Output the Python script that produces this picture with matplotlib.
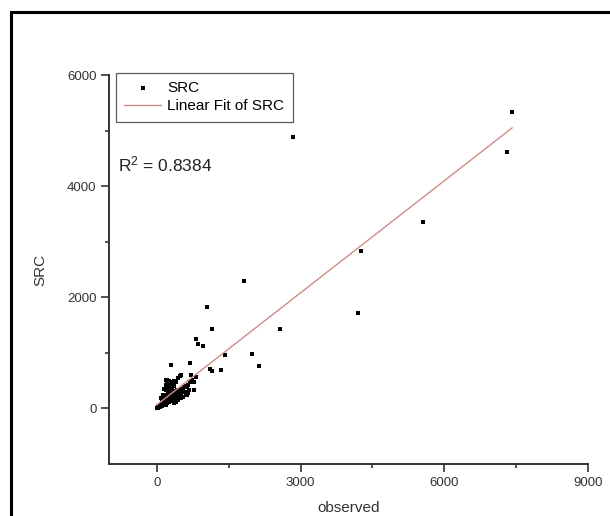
import matplotlib
matplotlib.use("Agg")
import matplotlib.pyplot as plt
from matplotlib.patches import Rectangle
from matplotlib.ticker import FixedLocator

plt.rcParams["font.family"] = ["Liberation Sans", "DejaVu Sans"]
plt.rcParams["mathtext.default"] = "regular"

# outliers
obs_out = [7415, 7304, 2840, 5546, 4263, 4207, 2568, 1814, 1053, 1144, 823,
           851, 970, 1423, 1982, 2128, 293, 697, 1109, 1158, 1333, 712, 481,
           195, 739, 774, 774, 634, 810]
src_out = [5328, 4607, 4877, 3357, 2834, 1717, 1436, 2294, 1826, 1423, 1249,
           1153, 1123, 967, 985, 769, 781, 823, 715, 679, 685, 595, 589,
           517, 505, 474, 324, 240, 564]

# dense cluster near the origin (estimated)
obs_cl = [5, 10, 15, 20, 25, 30, 35, 40, 45, 50, 55, 60, 65, 70, 75, 80, 85,
          90, 95, 100, 105, 110, 115, 120, 125, 130, 135, 140, 145, 150, 160,
          165, 170, 180, 185, 190, 200, 205, 210, 220, 225, 230, 240, 250,
          255, 260, 270, 280, 290, 300, 310, 320, 330, 340, 350, 360, 380,
          400, 420, 440, 460, 480, 500, 520, 300, 350, 400, 250, 200, 150,
          100, 120, 160, 200, 240, 280, 320, 360, 180, 220, 270, 330, 380,
          420, 460, 500, 540, 560, 420, 380, 250, 300, 200, 150, 100, 60, 30,
          100, 150, 200, 250, 320, 280, 400, 450, 530, 500, 350, 600, 650,
          700, 620, 680, 580, 150, 180, 220, 260, 300, 200, 120, 80, 350,
          450, 400, 600, 650, 550, 500, 450, 216, 314, 496]
src_cl = [3, 8, 5, 15, 12, 22, 18, 30, 25, 40, 28, 50, 35, 55, 40, 65, 45,
          75, 50, 85, 55, 95, 60, 100, 70, 110, 75, 120, 80, 130, 90, 140,
          100, 160, 105, 170, 115, 185, 125, 200, 130, 210, 145, 230, 150,
          240, 160, 260, 175, 280, 190, 300, 200, 320, 210, 230, 240, 250,
          270, 280, 300, 320, 340, 350, 150, 180, 200, 120, 90, 65, 45, 140,
          180, 220, 270, 320, 360, 400, 60, 100, 130, 170, 210, 230, 260,
          290, 320, 380, 330, 300, 200, 250, 160, 110, 70, 30, 10, 150, 250,
          330, 380, 480, 420, 120, 170, 200, 250, 100, 400, 430, 480, 380,
          330, 300, 350, 420, 480, 500, 450, 380, 250, 180, 500, 540, 480,
          240, 280, 200, 180, 150, 505, 450, 595]

observed = obs_out + obs_cl
src = src_out + src_cl

# linear fit as drawn in the picture
fit_slope = 0.672
fit_icpt = 65
fit_x = [0, 7415]
fit_y = [fit_icpt + fit_slope * v for v in fit_x]

fig = plt.figure(figsize=(6.10, 5.16), dpi=100)
ax = fig.add_axes([109 / 610, 1 - 464 / 516, 479 / 610, 389 / 516])

ax.scatter(observed, src, marker="s", s=9, color="black", linewidths=0,
           label="SRC", zorder=2)
ax.plot(fit_x, fit_y, color="#cf8c86", lw=1.0, label="Linear Fit of SRC",
        zorder=3)

ax.set_xlim(-1000, 9000)
ax.set_ylim(-1000, 6000)
ax.xaxis.set_major_locator(FixedLocator([0, 3000, 6000, 9000]))
ax.xaxis.set_minor_locator(FixedLocator([1500, 4500, 7500]))
ax.yaxis.set_major_locator(FixedLocator([0, 2000, 4000, 6000]))
ax.yaxis.set_minor_locator(FixedLocator([1000, 3000, 5000]))
ax.tick_params(which="major", direction="out", length=6, width=1.2,
               color="#333333", labelsize=9.5, labelcolor="#333333", pad=3)
ax.tick_params(which="minor", direction="out", length=3, width=1.2,
               color="#333333")
for s in ("top", "right"):
    ax.spines[s].set_visible(False)
for s in ("left", "bottom"):
    ax.spines[s].set_linewidth(1.4)
    ax.spines[s].set_color("#333333")

ax.set_xlabel("observed", fontsize=11, color="#333333", labelpad=9)
ax.set_ylabel("SRC", fontsize=11, color="#333333", labelpad=14)

ax.text(0.019, 0.771, "R$^2$ = 0.8384", transform=ax.transAxes,
        fontsize=12.5, va="center", ha="left", color="#222222")

leg = ax.legend(loc="upper left", bbox_to_anchor=(116 / 610, 1 - 73 / 516),
                bbox_transform=fig.transFigure, borderaxespad=0,
                fontsize=11, frameon=True, fancybox=False, handlelength=2.4,
                handletextpad=0.4, borderpad=0.55, labelspacing=0.25,
                markerscale=1.0)
leg.get_frame().set_edgecolor("#333333")
leg.get_frame().set_linewidth(0.9)

# outer frame of the original figure (cut at right and bottom)
fig.patches.append(Rectangle((11 / 610, -0.1), 1.2, 1 - 11.5 / 516 + 0.1,
                             transform=fig.transFigure, fill=False,
                             edgecolor="black", lw=2.2))

fig.savefig("out.png", dpi=100)
